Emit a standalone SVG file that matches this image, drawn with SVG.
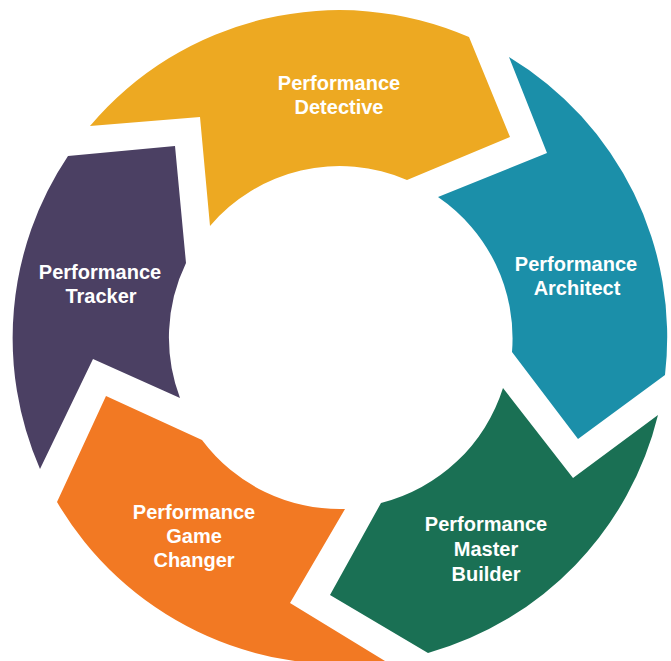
<svg xmlns="http://www.w3.org/2000/svg" width="671" height="661" viewBox="0 0 671 661">
<style>
.lbl{font-family:"Liberation Sans",Arial,sans-serif;font-weight:bold;font-size:20px;fill:#ffffff;text-anchor:middle}
</style>
<rect width="671" height="661" fill="#ffffff"/>
<g id="detective">
<path d="M 90,126 A 326 326 0 0 1 469,37 L 510,137 L 407,180 A 170 170 0 0 0 210,226 L 200,117 Z" fill="#EDA922"/>
<text class="lbl" x="339" y="90">Performance</text>
<text class="lbl" x="339" y="114">Detective</text>
</g>
<g id="architect">
<path d="M 509,57 A 327 327 0 0 1 665,375 L 578,439 L 512,352 A 171 171 0 0 0 438,197 L 547,153 Z" fill="#1B8FA9"/>
<text class="lbl" x="576" y="271">Performance</text>
<text class="lbl" x="577" y="295">Architect</text>
</g>
<g id="master-builder">
<path d="M 503,388 L 573,478 L 658,415 A 328 328 0 0 1 428,653 L 330,595 L 381,503 A 172 172 0 0 0 503,388 Z" fill="#1A7054"/>
<text class="lbl" x="486" y="531">Performance</text>
<text class="lbl" x="486" y="556">Master</text>
<text class="lbl" x="486" y="581">Builder</text>
</g>
<g id="game-changer">
<path d="M 106,396 L 202,440 A 172 172 0 0 0 345,509 L 290,603 L 385,661 A 328 328 0 0 1 57,502 Z" fill="#F27923"/>
<text class="lbl" x="194" y="519">Performance</text>
<text class="lbl" x="194" y="543">Game</text>
<text class="lbl" x="194" y="567">Changer</text>
</g>
<g id="tracker">
<path d="M 68,156 L 175,146 L 186,263 A 171 171 0 0 0 180,398 L 93,359 L 40,469 A 327 327 0 0 1 68,156 Z" fill="#4B4063"/>
<text class="lbl" x="100" y="279">Performance</text>
<text class="lbl" x="101" y="303">Tracker</text>
</g>
<g id="connectors"></g>
</svg>
